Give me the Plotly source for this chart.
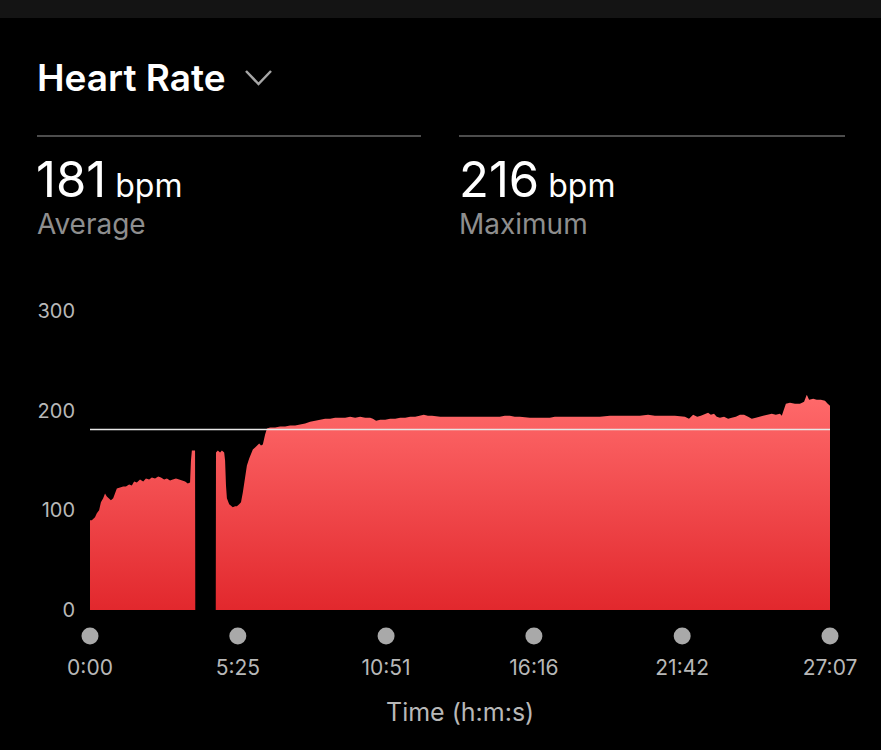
import plotly.graph_objects as go

W, H = 881, 750

# ---- data ----
time_s = [0, 4, 11, 15, 20, 24, 29, 33, 37, 42, 46, 51, 55, 59, 66, 73, 79, 86, 92, 97,
          103, 110, 117, 123, 130, 136, 143, 150, 156, 163, 169, 176, 182, 189, 196, 202,
          209, 215, 220, 222, 224, 228, 231, 231.5,
          276.5, 277, 281, 286, 290, 295, 297, 299, 301, 306, 310, 314, 319, 323, 328, 332,
          336, 341, 345, 350, 354, 358, 363, 367, 372, 376, 380, 385, 389, 396, 407, 418,
          429, 440, 451, 462, 473, 484, 495, 506, 517, 528, 539, 550, 561, 572, 583, 594,
          605, 616, 622, 629, 638, 649, 660, 671, 682, 693, 704, 715, 726, 734, 743, 752,
          770, 791, 813, 835, 857, 879, 901, 912, 923, 934, 945, 967, 989, 1011, 1022, 1033,
          1055, 1077, 1099, 1121, 1143, 1165, 1187, 1209, 1227, 1242, 1264, 1286, 1308, 1317,
          1326, 1335, 1343, 1352, 1359, 1365, 1372, 1378, 1385, 1394, 1403, 1411, 1420, 1429,
          1438, 1447, 1455, 1464, 1473, 1482, 1491, 1499, 1508, 1517, 1521, 1526, 1530, 1539,
          1550, 1561, 1570, 1576, 1581, 1590, 1598, 1607, 1616, 1622, 1627]
bpm = [90, 90, 93, 97, 100, 108, 112, 117, 114, 112, 110, 112, 118, 122, 123, 124, 124, 126, 125, 129,
       128, 131, 129, 132, 131, 133, 132, 134, 133, 131, 132, 130, 131, 132, 131, 130,
       129, 127, 128, 150, 160, 160, 160, 0,
       0, 158, 160, 158, 160, 158, 150, 125, 112, 106, 104, 103, 104, 104, 106, 108,
       118, 135, 145, 152, 157, 161, 163, 165, 167, 165, 166, 176, 182, 183, 183, 184,
       184, 185, 185, 186, 187, 189, 190, 191, 192, 192, 193, 193, 193, 194, 193, 194,
       193, 193, 192, 190, 191, 191, 192, 192, 193, 193, 194, 194, 195, 196, 195, 195,
       194, 194, 194, 194, 194, 194, 194, 195, 195, 194, 194, 193, 193, 193, 194, 194,
       194, 194, 194, 194, 195, 195, 195, 195, 196, 195, 195, 195, 194, 192,
       196, 194, 195, 197, 198, 196, 197, 194, 193, 194, 192, 193, 194, 196,
       196, 194, 192, 193, 194, 195, 196, 197, 196, 197, 195, 203, 207, 208,
       207, 207, 209, 216, 211, 212, 211, 211, 210, 207, 205]

avg_bpm = 181
max_bpm = 216
tick_vals = [0, 325, 651, 976, 1302, 1627]
tick_text = ["0:00", "5:25", "10:51", "16:16", "21:42", "27:07"]
y_ticks = [0, 100, 200, 300]

FONT = "Inter"

def px(x):
    return x / W

def py(y):
    return 1 - y / H

fig = go.Figure()

fig.add_trace(go.Scatter(
    x=time_s, y=bpm, mode="lines", line=dict(width=0, color="#fb6466"),
    fill="tozeroy",
    fillgradient=dict(type="vertical", colorscale=[[0, "#e2282d"], [1, "#ff6a6b"]]),
    hoverinfo="skip", showlegend=False,
))

# average line
fig.add_trace(go.Scatter(
    x=[tick_vals[0], tick_vals[-1]], y=[avg_bpm, avg_bpm], mode="lines",
    line=dict(color="#e6e6e6", width=1.5), hoverinfo="skip", showlegend=False,
))

# tick dots on a thin helper axis
fig.add_trace(go.Scatter(
    x=tick_vals, y=[0] * len(tick_vals), mode="markers", yaxis="y2",
    marker=dict(size=17, color="#a9a9a9"), cliponaxis=False,
    hoverinfo="skip", showlegend=False,
))

y0_pix, y300_pix = 610, 311
fig.update_layout(
    template="none",
    width=W, height=H, margin=dict(l=0, r=0, t=0, b=0, pad=0, autoexpand=False),
    paper_bgcolor="#000000", plot_bgcolor="rgba(0,0,0,0)",
    font=dict(family=FONT, color="#b5b5b5"),
    xaxis=dict(domain=[px(90), px(830)], range=[0, 1627], showgrid=False, zeroline=False,
               showline=False, ticks="", tickvals=tick_vals, ticktext=tick_text,
               tickfont=dict(size=21, color="#b8b8b8"), ticklabelstandoff=43,
               automargin=False, fixedrange=True),
    yaxis=dict(domain=[py(y0_pix), py(y300_pix)], range=[0, 300], showgrid=False,
               zeroline=False, showline=False, ticks="", tickvals=y_ticks,
               tickfont=dict(size=20, color="#b8b8b8"), ticklabelstandoff=14,
               automargin=False, fixedrange=True),
    yaxis2=dict(domain=[py(646), py(626)], range=[-1, 1], anchor="x", visible=False,
                automargin=False, fixedrange=True),
    showlegend=False,
)

shapes = [
    dict(type="rect", xref="paper", yref="paper", x0=0, x1=1, y0=py(18), y1=1,
         fillcolor="#141414", line=dict(width=0)),
    dict(type="line", xref="paper", yref="paper", x0=px(37), x1=px(421), y0=py(136), y1=py(136),
         line=dict(color="#4d4d4d", width=2)),
    dict(type="line", xref="paper", yref="paper", x0=px(459), x1=px(845), y0=py(136), y1=py(136),
         line=dict(color="#4d4d4d", width=2)),
    dict(type="path", xref="paper", yref="paper",
         path=f"M {px(246)} {py(71)} L {px(258.5)} {py(84)} L {px(271)} {py(71)}",
         line=dict(color="#a6a6a6", width=2.5)),
]
fig.update_layout(shapes=shapes)

ann = [
    dict(text="Heart Rate", x=px(35), y=py(77), font=dict(size=37, color="#ffffff", weight=600)),
    dict(text=f"<span style='font-size:49px'>{avg_bpm}</span>&nbsp;bpm", x=px(34), y=py(179),
         font=dict(size=32, color="#ffffff")),
    dict(text="Average", x=px(35), y=py(224), font=dict(size=28, color="#8e8e8e")),
    dict(text=f"<span style='font-size:49px'>{max_bpm}</span>&nbsp;bpm", x=px(457), y=py(179),
         font=dict(size=32, color="#ffffff")),
    dict(text="Maximum", x=px(457), y=py(224), font=dict(size=28, color="#8e8e8e")),
]
for a in ann:
    fig.add_annotation(xref="paper", yref="paper", xanchor="left", yanchor="middle",
                       showarrow=False, **a)

fig.add_annotation(text="Time (h:m:s)", xref="paper", yref="paper", x=px(460), y=py(712),
                   xanchor="center", yanchor="middle", showarrow=False,
                   font=dict(size=25, color="#b8b8b8"))

fig.write_html("out.html", config={"displayModeBar": False})
